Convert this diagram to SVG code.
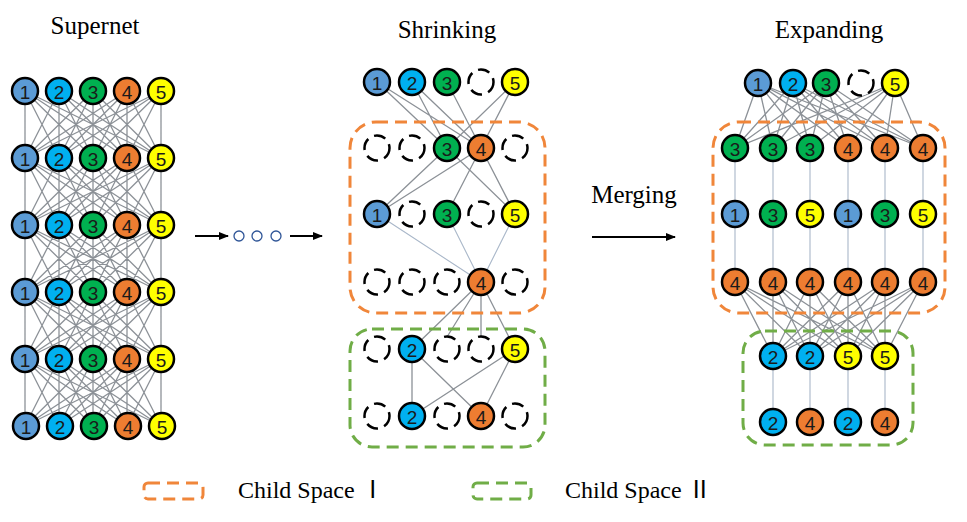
<svg xmlns="http://www.w3.org/2000/svg" xmlns:xlink="http://www.w3.org/1999/xlink" width="967" height="522" viewBox="0 0 967 522">
<style>
.n circle{stroke:#000;stroke-width:2.5}
.n text{font-family:"Liberation Sans",Arial,sans-serif;font-size:19px;text-anchor:middle;fill:#1a1a1a;transform:translateY(0.5px)}
.c1{fill:#5B9BD5}.c2{fill:#00B0F0}.c3{fill:#00B050}.c4{fill:#ED7D31}.c5{fill:#FFFF00}
.d circle{fill:#fff;stroke:#000;stroke-width:2.5;stroke-dasharray:12 6.5}
.e{stroke:#8C9197;stroke-width:1.3;fill:none}
.el{stroke:#A9B7C9;stroke-width:1.1;fill:none}
.title{font-family:"Liberation Serif","Times New Roman",serif;font-size:25px;text-anchor:middle;fill:#000}
.leg{font-family:"Liberation Serif","Times New Roman","Noto Sans CJK SC",serif;font-size:24px;fill:#000}
.ob{fill:none;stroke:#F0863A;stroke-width:3;stroke-dasharray:12 7}
.gb{fill:none;stroke:#70AD47;stroke-width:3;stroke-dasharray:12 7}
.arr{stroke:#000;stroke-width:2;marker-end:url(#ah)}
</style>
<defs>
<marker id="ah" markerWidth="10" markerHeight="8" refX="9" refY="4" orient="auto" markerUnits="userSpaceOnUse">
<path d="M0,0 L10,4 L0,8 Z" fill="#000"/>
</marker>
<path id="k55" class="e" d="M25 0L25 67M25 0L59 67M25 0L93 67M25 0L127 67M25 0L161 67M59 0L25 67M59 0L59 67M59 0L93 67M59 0L127 67M59 0L161 67M93 0L25 67M93 0L59 67M93 0L93 67M93 0L127 67M93 0L161 67M127 0L25 67M127 0L59 67M127 0L93 67M127 0L127 67M127 0L161 67M161 0L25 67M161 0L59 67M161 0L93 67M161 0L127 67M161 0L161 67"/>
</defs>
<rect width="967" height="522" fill="#fff"/>

<g id="connectors">
<use xlink:href="#k55" href="#k55" y="91"/>
<use xlink:href="#k55" href="#k55" y="158"/>
<use xlink:href="#k55" href="#k55" y="225"/>
<use xlink:href="#k55" href="#k55" y="292"/>
<use xlink:href="#k55" href="#k55" y="359"/>
<path class="e" d="M377 82L447 148M377 82L481 148M412 82L447 148M412 82L481 148M447 82L481 148M515 82L447 148M515 82L481 148"/>
<path class="e" d="M447 148L377 214M447 148L515 214M481 148L377 214M481 148L447 214M481 148L515 214"/>
<path class="el" d="M377 214L481 282M447 214L481 282M515 214L481 282"/>
<path class="e" d="M481 282L412 349M481 282L447 337M481 282L481 337M481 282L515 349"/>
<path class="e" d="M412 349L412 416M412 349L481 416M515 349L412 416M515 349L481 416"/>
<path class="e" d="M758 83L735 148M758 83L773 148M758 83L810 148M758 83L848 148M758 83L885 148M758 83L923 148M793 83L735 148M793 83L773 148M793 83L810 148M793 83L848 148M793 83L885 148M793 83L923 148M826 83L735 148M826 83L773 148M826 83L810 148M826 83L848 148M826 83L885 148M826 83L923 148M895 83L735 148M895 83L773 148M895 83L810 148M895 83L848 148M895 83L885 148M895 83L923 148"/>
<path class="el" d="M735 148V282M773 148V282M810 148V282M848 148V282M885 148V282M923 148V282"/>
<path class="e" d="M735 282L773 356M735 282L810 356M735 282L848 356M735 282L885 356M773 282L773 356M773 282L810 356M773 282L848 356M773 282L885 356M810 282L773 356M810 282L810 356M810 282L848 356M810 282L885 356M848 282L773 356M848 282L810 356M848 282L848 356M848 282L885 356M885 282L773 356M885 282L810 356M885 282L848 356M885 282L885 356M923 282L773 356M923 282L810 356M923 282L848 356M923 282L885 356"/>
<path class="el" d="M773 356V422M810 356V422M848 356V422M885 356V422"/>
<line class="arr" x1="195" y1="236" x2="228" y2="236"/>
<line class="arr" x1="290" y1="236" x2="322" y2="236"/>
<line class="arr" x1="592" y1="237" x2="675" y2="237"/>
</g>

<g id="boxes">
<rect class="ob" x="350" y="122" width="195" height="191" rx="26"/>
<rect class="gb" x="350" y="329" width="195" height="118" rx="22"/>
<rect class="ob" x="713" y="122" width="232" height="191" rx="26"/>
<rect class="gb" x="743" y="331" width="170" height="114" rx="22"/>
</g>

<g id="titles">
<text class="title" x="95" y="34">Supernet</text>
<text class="title" x="447" y="38">Shrinking</text>
<text class="title" x="829" y="38">Expanding</text>
<text class="title" x="634" y="203">Merging</text>
</g>

<g id="ellipsis" fill="none" stroke="#2F5597" stroke-width="1.3">
<circle cx="239" cy="236" r="5"/><circle cx="257" cy="236" r="5"/><circle cx="276" cy="236" r="5"/>
</g>

<g id="supernet">
<g id="s1-1" class="n"><circle class="c1" cx="25" cy="91" r="13"/><text x="25" y="98">1</text></g>
<g id="s1-2" class="n"><circle class="c2" cx="59" cy="91" r="13"/><text x="59" y="98">2</text></g>
<g id="s1-3" class="n"><circle class="c3" cx="93" cy="91" r="13"/><text x="93" y="98">3</text></g>
<g id="s1-4" class="n"><circle class="c4" cx="127" cy="91" r="13"/><text x="127" y="98">4</text></g>
<g id="s1-5" class="n"><circle class="c5" cx="161" cy="91" r="13"/><text x="161" y="98">5</text></g>
<g id="s2-1" class="n"><circle class="c1" cx="25" cy="158" r="13"/><text x="25" y="165">1</text></g>
<g id="s2-2" class="n"><circle class="c2" cx="59" cy="158" r="13"/><text x="59" y="165">2</text></g>
<g id="s2-3" class="n"><circle class="c3" cx="93" cy="158" r="13"/><text x="93" y="165">3</text></g>
<g id="s2-4" class="n"><circle class="c4" cx="127" cy="158" r="13"/><text x="127" y="165">4</text></g>
<g id="s2-5" class="n"><circle class="c5" cx="161" cy="158" r="13"/><text x="161" y="165">5</text></g>
<g id="s3-1" class="n"><circle class="c1" cx="25" cy="225" r="13"/><text x="25" y="232">1</text></g>
<g id="s3-2" class="n"><circle class="c2" cx="59" cy="225" r="13"/><text x="59" y="232">2</text></g>
<g id="s3-3" class="n"><circle class="c3" cx="93" cy="225" r="13"/><text x="93" y="232">3</text></g>
<g id="s3-4" class="n"><circle class="c4" cx="127" cy="225" r="13"/><text x="127" y="232">4</text></g>
<g id="s3-5" class="n"><circle class="c5" cx="161" cy="225" r="13"/><text x="161" y="232">5</text></g>
<g id="s4-1" class="n"><circle class="c1" cx="25" cy="292" r="13"/><text x="25" y="299">1</text></g>
<g id="s4-2" class="n"><circle class="c2" cx="59" cy="292" r="13"/><text x="59" y="299">2</text></g>
<g id="s4-3" class="n"><circle class="c3" cx="93" cy="292" r="13"/><text x="93" y="299">3</text></g>
<g id="s4-4" class="n"><circle class="c4" cx="127" cy="292" r="13"/><text x="127" y="299">4</text></g>
<g id="s4-5" class="n"><circle class="c5" cx="161" cy="292" r="13"/><text x="161" y="299">5</text></g>
<g id="s5-1" class="n"><circle class="c1" cx="25" cy="359" r="13"/><text x="25" y="366">1</text></g>
<g id="s5-2" class="n"><circle class="c2" cx="59" cy="359" r="13"/><text x="59" y="366">2</text></g>
<g id="s5-3" class="n"><circle class="c3" cx="93" cy="359" r="13"/><text x="93" y="366">3</text></g>
<g id="s5-4" class="n"><circle class="c4" cx="127" cy="359" r="13"/><text x="127" y="366">4</text></g>
<g id="s5-5" class="n"><circle class="c5" cx="161" cy="359" r="13"/><text x="161" y="366">5</text></g>
<g id="s6-1" class="n"><circle class="c1" cx="26" cy="426" r="13"/><text x="26" y="433">1</text></g>
<g id="s6-2" class="n"><circle class="c2" cx="60" cy="426" r="13"/><text x="60" y="433">2</text></g>
<g id="s6-3" class="n"><circle class="c3" cx="94" cy="426" r="13"/><text x="94" y="433">3</text></g>
<g id="s6-4" class="n"><circle class="c4" cx="128" cy="426" r="13"/><text x="128" y="433">4</text></g>
<g id="s6-5" class="n"><circle class="c5" cx="162" cy="426" r="13"/><text x="162" y="433">5</text></g>
</g>

<g id="shrinking">
<g id="h1-1" class="n"><circle class="c1" cx="377" cy="82" r="13"/><text x="377" y="89">1</text></g>
<g id="h1-2" class="n"><circle class="c2" cx="412" cy="82" r="13"/><text x="412" y="89">2</text></g>
<g id="h1-3" class="n"><circle class="c3" cx="447" cy="82" r="13"/><text x="447" y="89">3</text></g>
<g id="h1-4" class="d"><circle cx="481" cy="82" r="12.5"/></g>
<g id="h1-5" class="n"><circle class="c5" cx="515" cy="82" r="13"/><text x="515" y="89">5</text></g>
<g id="h2-1" class="d"><circle cx="377" cy="148" r="12.5"/></g>
<g id="h2-2" class="d"><circle cx="412" cy="148" r="12.5"/></g>
<g id="h2-3" class="n"><circle class="c3" cx="447" cy="148" r="13"/><text x="447" y="155">3</text></g>
<g id="h2-4" class="n"><circle class="c4" cx="481" cy="148" r="13"/><text x="481" y="155">4</text></g>
<g id="h2-5" class="d"><circle cx="515" cy="148" r="12.5"/></g>
<g id="h3-1" class="n"><circle class="c1" cx="377" cy="214" r="13"/><text x="377" y="221">1</text></g>
<g id="h3-2" class="d"><circle cx="412" cy="214" r="12.5"/></g>
<g id="h3-3" class="n"><circle class="c3" cx="447" cy="214" r="13"/><text x="447" y="221">3</text></g>
<g id="h3-4" class="d"><circle cx="481" cy="214" r="12.5"/></g>
<g id="h3-5" class="n"><circle class="c5" cx="515" cy="214" r="13"/><text x="515" y="221">5</text></g>
<g id="h4-1" class="d"><circle cx="377" cy="282" r="12.5"/></g>
<g id="h4-2" class="d"><circle cx="412" cy="282" r="12.5"/></g>
<g id="h4-3" class="d"><circle cx="447" cy="282" r="12.5"/></g>
<g id="h4-4" class="n"><circle class="c4" cx="481" cy="282" r="13"/><text x="481" y="289">4</text></g>
<g id="h4-5" class="d"><circle cx="515" cy="282" r="12.5"/></g>
<g id="h5-1" class="d"><circle cx="377" cy="349" r="12.5"/></g>
<g id="h5-2" class="n"><circle class="c2" cx="412" cy="349" r="13"/><text x="412" y="356">2</text></g>
<g id="h5-3" class="d"><circle cx="447" cy="349" r="12.5"/></g>
<g id="h5-4" class="d"><circle cx="481" cy="349" r="12.5"/></g>
<g id="h5-5" class="n"><circle class="c5" cx="515" cy="349" r="13"/><text x="515" y="356">5</text></g>
<g id="h6-1" class="d"><circle cx="377" cy="416" r="12.5"/></g>
<g id="h6-2" class="n"><circle class="c2" cx="412" cy="416" r="13"/><text x="412" y="423">2</text></g>
<g id="h6-3" class="d"><circle cx="447" cy="416" r="12.5"/></g>
<g id="h6-4" class="n"><circle class="c4" cx="481" cy="416" r="13"/><text x="481" y="423">4</text></g>
<g id="h6-5" class="d"><circle cx="515" cy="416" r="12.5"/></g>
</g>

<g id="expanding">
<g id="e1-1" class="n"><circle class="c1" cx="758" cy="83" r="13"/><text x="758" y="90">1</text></g>
<g id="e1-2" class="n"><circle class="c2" cx="793" cy="83" r="13"/><text x="793" y="90">2</text></g>
<g id="e1-3" class="n"><circle class="c3" cx="826" cy="83" r="13"/><text x="826" y="90">3</text></g>
<g id="e1-4" class="d"><circle cx="861" cy="83" r="12.5"/></g>
<g id="e1-5" class="n"><circle class="c5" cx="895" cy="83" r="13"/><text x="895" y="90">5</text></g>
<g id="e2-1" class="n"><circle class="c3" cx="735" cy="148" r="13"/><text x="735" y="155">3</text></g>
<g id="e2-2" class="n"><circle class="c3" cx="773" cy="148" r="13"/><text x="773" y="155">3</text></g>
<g id="e2-3" class="n"><circle class="c3" cx="810" cy="148" r="13"/><text x="810" y="155">3</text></g>
<g id="e2-4" class="n"><circle class="c4" cx="848" cy="148" r="13"/><text x="848" y="155">4</text></g>
<g id="e2-5" class="n"><circle class="c4" cx="885" cy="148" r="13"/><text x="885" y="155">4</text></g>
<g id="e2-6" class="n"><circle class="c4" cx="923" cy="148" r="13"/><text x="923" y="155">4</text></g>
<g id="e3-1" class="n"><circle class="c1" cx="735" cy="214" r="13"/><text x="735" y="221">1</text></g>
<g id="e3-2" class="n"><circle class="c3" cx="773" cy="214" r="13"/><text x="773" y="221">3</text></g>
<g id="e3-3" class="n"><circle class="c5" cx="810" cy="214" r="13"/><text x="810" y="221">5</text></g>
<g id="e3-4" class="n"><circle class="c1" cx="848" cy="214" r="13"/><text x="848" y="221">1</text></g>
<g id="e3-5" class="n"><circle class="c3" cx="885" cy="214" r="13"/><text x="885" y="221">3</text></g>
<g id="e3-6" class="n"><circle class="c5" cx="923" cy="214" r="13"/><text x="923" y="221">5</text></g>
<g id="e4-1" class="n"><circle class="c4" cx="735" cy="282" r="13"/><text x="735" y="289">4</text></g>
<g id="e4-2" class="n"><circle class="c4" cx="773" cy="282" r="13"/><text x="773" y="289">4</text></g>
<g id="e4-3" class="n"><circle class="c4" cx="810" cy="282" r="13"/><text x="810" y="289">4</text></g>
<g id="e4-4" class="n"><circle class="c4" cx="848" cy="282" r="13"/><text x="848" y="289">4</text></g>
<g id="e4-5" class="n"><circle class="c4" cx="885" cy="282" r="13"/><text x="885" y="289">4</text></g>
<g id="e4-6" class="n"><circle class="c4" cx="923" cy="282" r="13"/><text x="923" y="289">4</text></g>
<g id="e5-1" class="n"><circle class="c2" cx="773" cy="356" r="13"/><text x="773" y="363">2</text></g>
<g id="e5-2" class="n"><circle class="c2" cx="810" cy="356" r="13"/><text x="810" y="363">2</text></g>
<g id="e5-3" class="n"><circle class="c5" cx="848" cy="356" r="13"/><text x="848" y="363">5</text></g>
<g id="e5-4" class="n"><circle class="c5" cx="885" cy="356" r="13"/><text x="885" y="363">5</text></g>
<g id="e6-1" class="n"><circle class="c2" cx="773" cy="422" r="13"/><text x="773" y="429">2</text></g>
<g id="e6-2" class="n"><circle class="c4" cx="810" cy="422" r="13"/><text x="810" y="429">4</text></g>
<g id="e6-3" class="n"><circle class="c2" cx="848" cy="422" r="13"/><text x="848" y="429">2</text></g>
<g id="e6-4" class="n"><circle class="c4" cx="885" cy="422" r="13"/><text x="885" y="429">4</text></g>
</g>

<g id="legend">
<rect class="ob" x="144" y="483" width="59" height="16" rx="4" stroke-dasharray="10 7"/>
<text class="leg" x="238" y="498">Child Space Ⅰ</text>
<rect class="gb" x="473" y="483" width="58" height="16" rx="4" stroke-dasharray="10 7"/>
<text class="leg" x="565" y="498">Child Space Ⅱ</text>
</g>
</svg>
